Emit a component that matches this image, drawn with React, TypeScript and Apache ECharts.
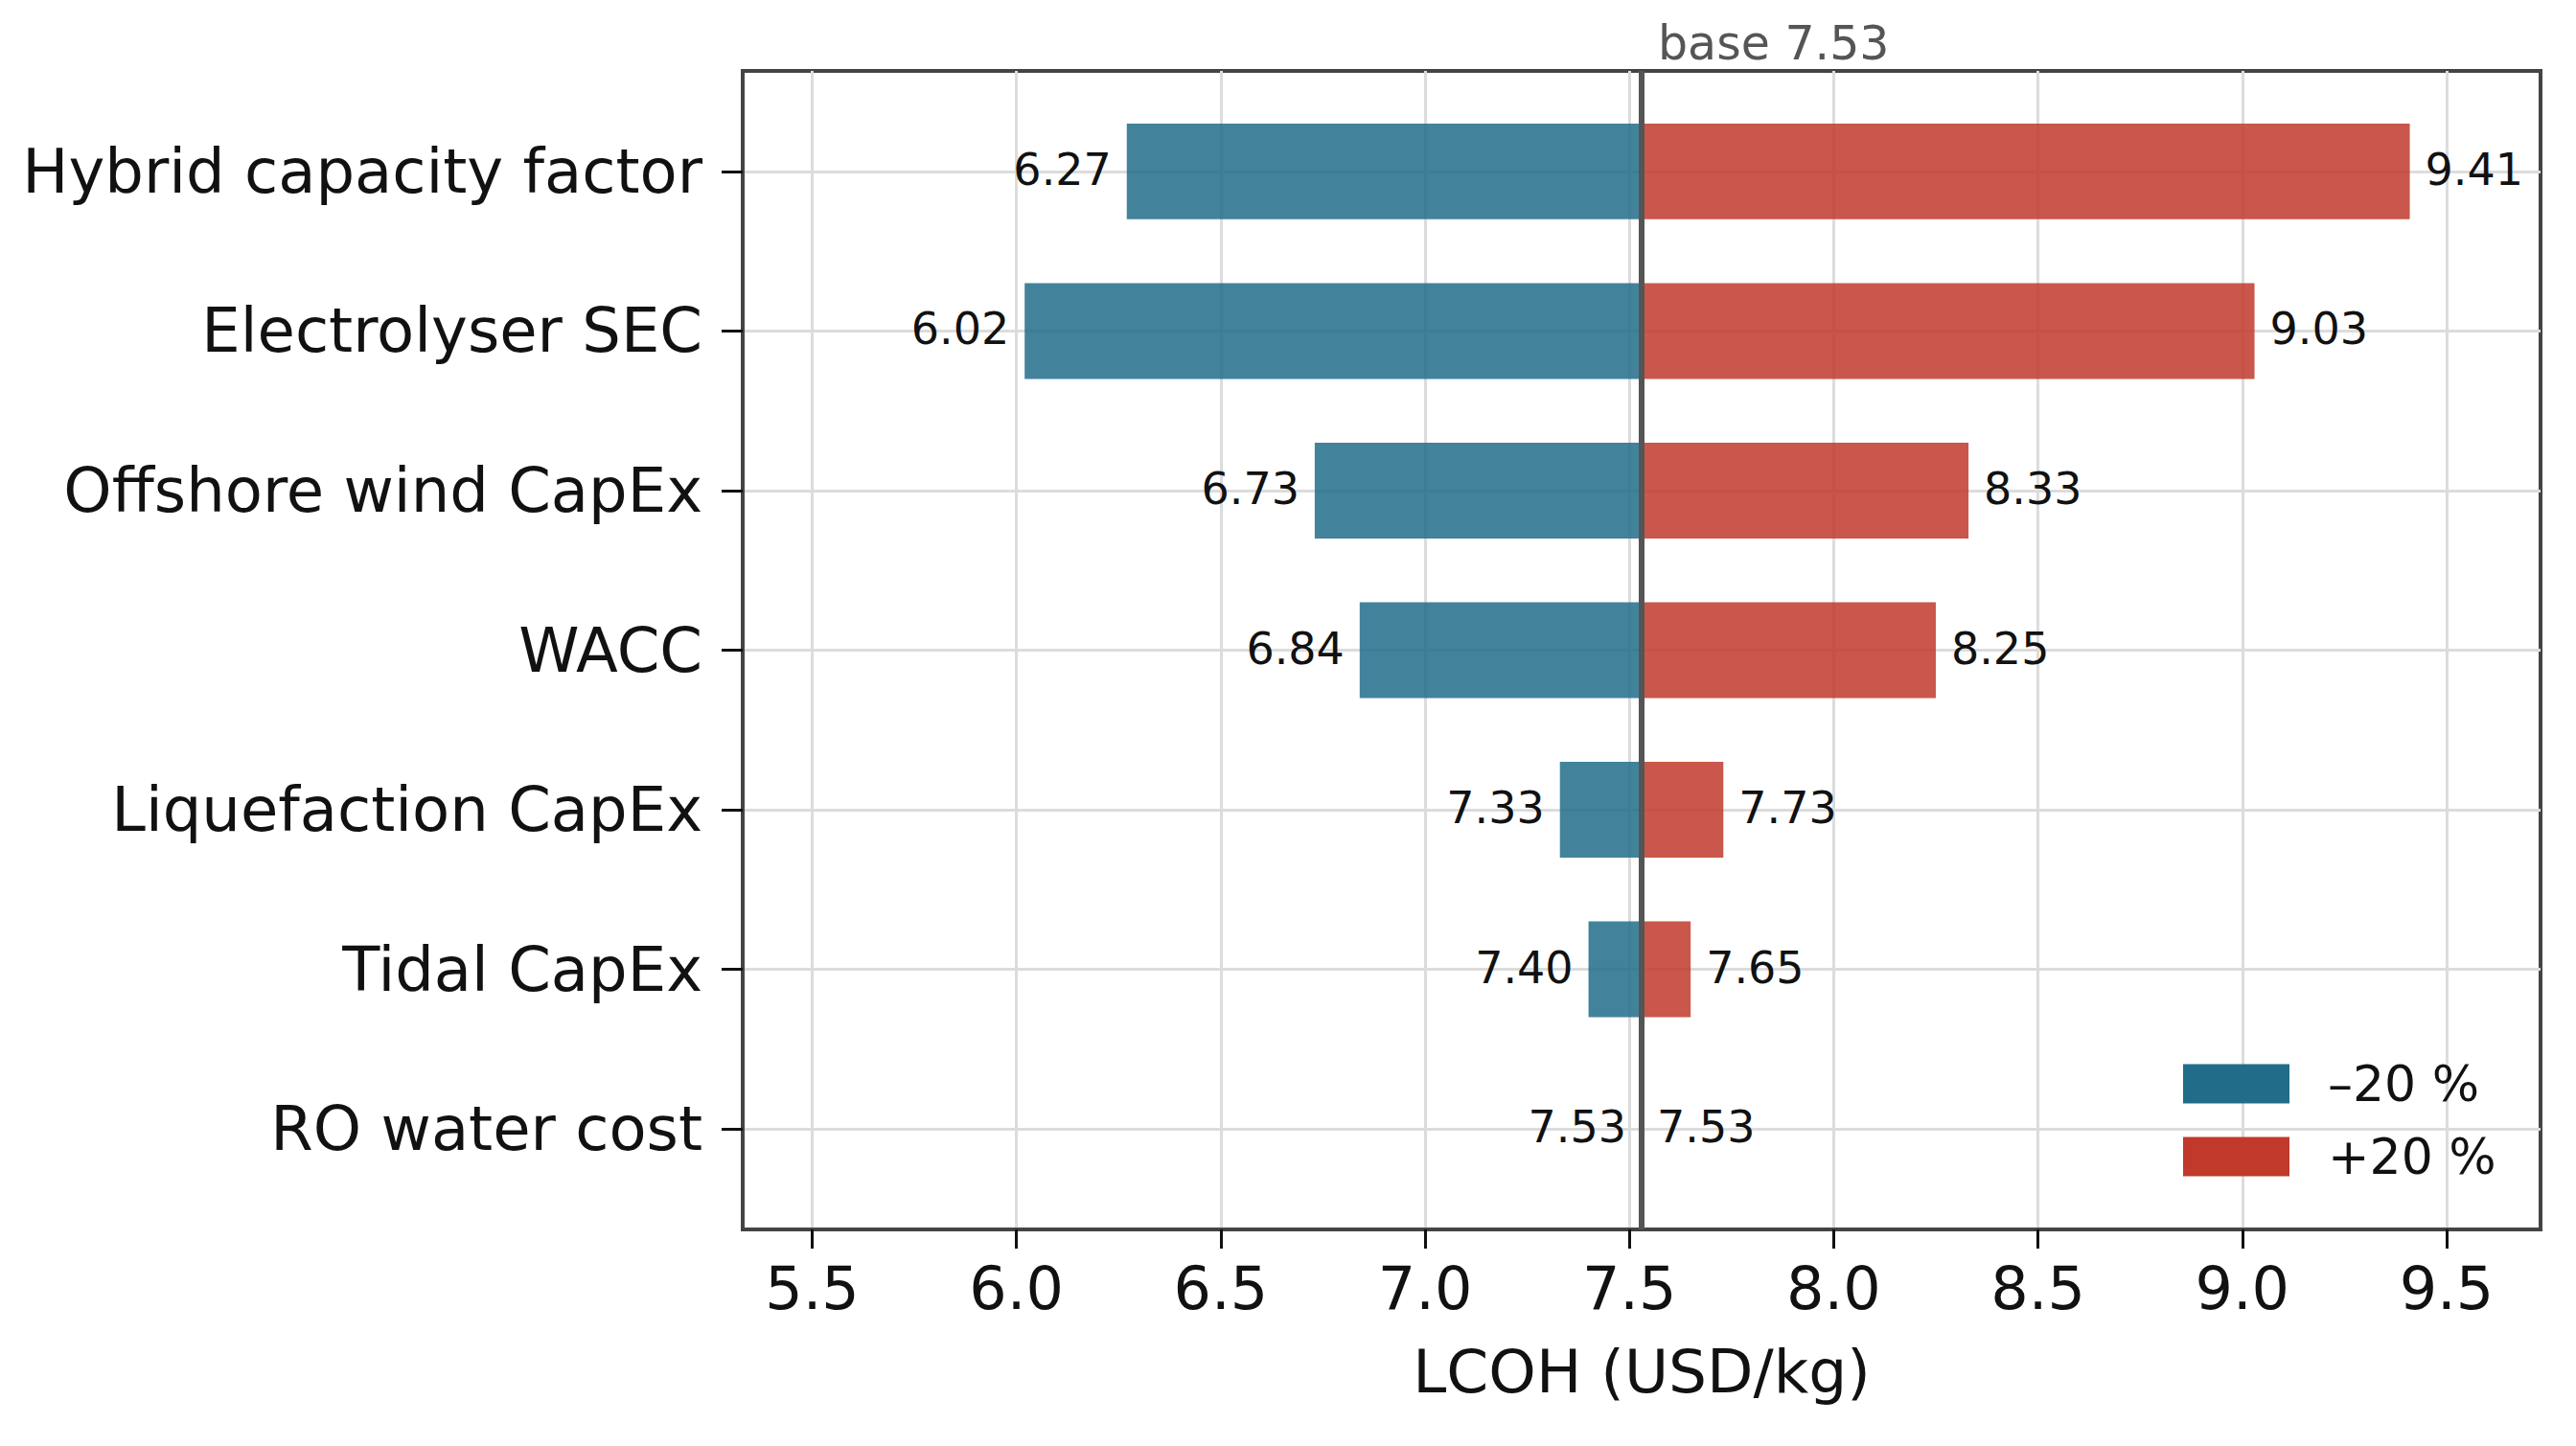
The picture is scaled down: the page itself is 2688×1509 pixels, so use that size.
import React, { useEffect, useRef } from "react";
import * as echarts from "echarts";

// Tornado chart: LCOH sensitivity to ±20 % changes in each input.
const categories = [
  "Hybrid capacity factor",
  "Electrolyser SEC",
  "Offshore wind CapEx",
  "WACC",
  "Liquefaction CapEx",
  "Tidal CapEx",
  "RO water cost",
];
const lowValues = [6.27, 6.02, 6.73, 6.84, 7.33, 7.4, 7.53];
const highValues = [9.41, 9.03, 8.33, 8.25, 7.73, 7.65, 7.53];
const BASE = 7.53;
const xTicks = [5.5, 6.0, 6.5, 7.0, 7.5, 8.0, 8.5, 9.0, 9.5];
const seriesNames = ["\u201320 %", "+20 %"];

const FONT = "DejaVu Sans";
const BLUE = "#216d89";
const RED = "#c0392b";
const BAR_HALF = 0.3;

function barRenderer(side: "low" | "high") {
  return (params: any, api: any) => {
    const v = api.value(0);
    const i = api.value(1);
    const a = api.coord([v, i - BAR_HALF]);
    const b = api.coord([BASE, i + BAR_HALF]);
    const x0 = Math.min(a[0], b[0]);
    const y0 = Math.min(a[1], b[1]);
    const w = Math.abs(a[0] - b[0]);
    const h = Math.abs(a[1] - b[1]);
    const mid = (a[1] + b[1]) / 2;
    const color = side === "low" ? BLUE : RED;
    return {
      type: "group",
      children: [
        {
          type: "rect",
          shape: { x: x0, y: y0, width: w, height: h },
          style: { fill: color, opacity: 0.85 },
        },
        {
          type: "text",
          x: side === "low" ? a[0] - 16 : a[0] + 16,
          y: mid - 2,
          style: {
            text: v.toFixed(2),
            fill: "#111",
            font: `46px '${FONT}'`,
            align: side === "low" ? "right" : "left",
            verticalAlign: "middle",
          },
        },
      ],
    };
  };
}

function baseRenderer(params: any, api: any) {
  const cs = params.coordSys;
  const x = api.coord([api.value(0), 0])[0];
  return {
    type: "group",
    children: [
      {
        type: "line",
        shape: { x1: x, y1: cs.y, x2: x, y2: cs.y + cs.height },
        style: { stroke: "#555", lineWidth: 6 },
      },
      {
        type: "text",
        x: x + 17,
        y: cs.y - 4,
        style: {
          text: `base ${api.value(0).toFixed(2)}`,
          fill: "#555",
          font: `49px '${FONT}'`,
          align: "left",
          verticalAlign: "bottom",
        },
      },
    ],
  };
}

export default function App() {
  const ref = useRef<HTMLDivElement>(null);

  useEffect(() => {
    document.body.style.margin = "0";
    const chart = echarts.init(ref.current!, null, { renderer: "svg" });
    const catIdx = categories.map((_, i) => i);

    chart.setOption({
      animation: false,
      backgroundColor: "#fff",
      textStyle: { fontFamily: FONT },
      grid: {
        left: 775,
        right: 37,
        top: 74,
        bottom: 226,
        show: true,
        borderColor: "#444",
        borderWidth: 4,
        backgroundColor: "transparent",
      },
      legend: {
        orient: "vertical",
        left: 2278,
        top: 1105,
        padding: 0,
        itemWidth: 111,
        itemHeight: 41,
        itemGap: 24,
        icon: "rect",
        data: seriesNames,
        textStyle: {
          fontFamily: FONT,
          fontSize: 52,
          lineHeight: 52,
          color: "#111",
          padding: [0, 0, 0, 35],
        },
      },
      xAxis: {
        type: "value",
        min: 5.33,
        max: 9.73,
        name: "LCOH (USD/kg)",
        nameLocation: "middle",
        nameGap: 117,
        nameTextStyle: { fontFamily: FONT, fontSize: 63, color: "#111" },
        axisLine: { show: true, onZero: false, lineStyle: { color: "#444", width: 4 } },
        axisTick: {
          show: true,
          customValues: xTicks,
          length: 20,
          lineStyle: { color: "#111", width: 3 },
        },
        axisLabel: {
          customValues: xTicks,
          formatter: (v: number) => v.toFixed(1),
          fontFamily: FONT,
          fontSize: 62,
          color: "#111",
          margin: 30,
        },
        splitLine: { show: true, lineStyle: { color: "#dcdcdc", width: 3 } },
      },
      yAxis: {
        type: "value",
        inverse: true,
        min: -0.63,
        max: 6.63,
        axisLine: { show: true, onZero: false, lineStyle: { color: "#444", width: 4 } },
        axisTick: {
          show: true,
          customValues: catIdx,
          length: 22,
          lineStyle: { color: "#111", width: 3 },
        },
        axisLabel: {
          customValues: catIdx,
          formatter: (v: number) => categories[Math.round(v)] ?? "",
          fontFamily: FONT,
          fontSize: 64,
          color: "#111",
          margin: 42,
        },
        splitLine: { show: true, lineStyle: { color: "#dcdcdc", width: 3 } },
      },
      series: [
        {
          name: seriesNames[0],
          type: "custom",
          itemStyle: { color: BLUE },
          encode: { x: 0, y: 1 },
          data: lowValues.map((v, i) => [v, i]),
          renderItem: barRenderer("low"),
          z: 2,
        },
        {
          name: seriesNames[1],
          type: "custom",
          itemStyle: { color: RED },
          encode: { x: 0, y: 1 },
          data: highValues.map((v, i) => [v, i]),
          renderItem: barRenderer("high"),
          z: 2,
        },
        {
          name: "base",
          type: "custom",
          encode: { x: 0, y: 1 },
          data: [[BASE, 0]],
          renderItem: baseRenderer,
          clip: false,
          z: 5,
        },
      ],
    });

    return () => chart.dispose();
  }, []);

  return (
    <div
      ref={ref}
      style={{ position: "fixed", left: 0, top: 0, width: 2688, height: 1509, background: "#fff" }}
    />
  );
}
